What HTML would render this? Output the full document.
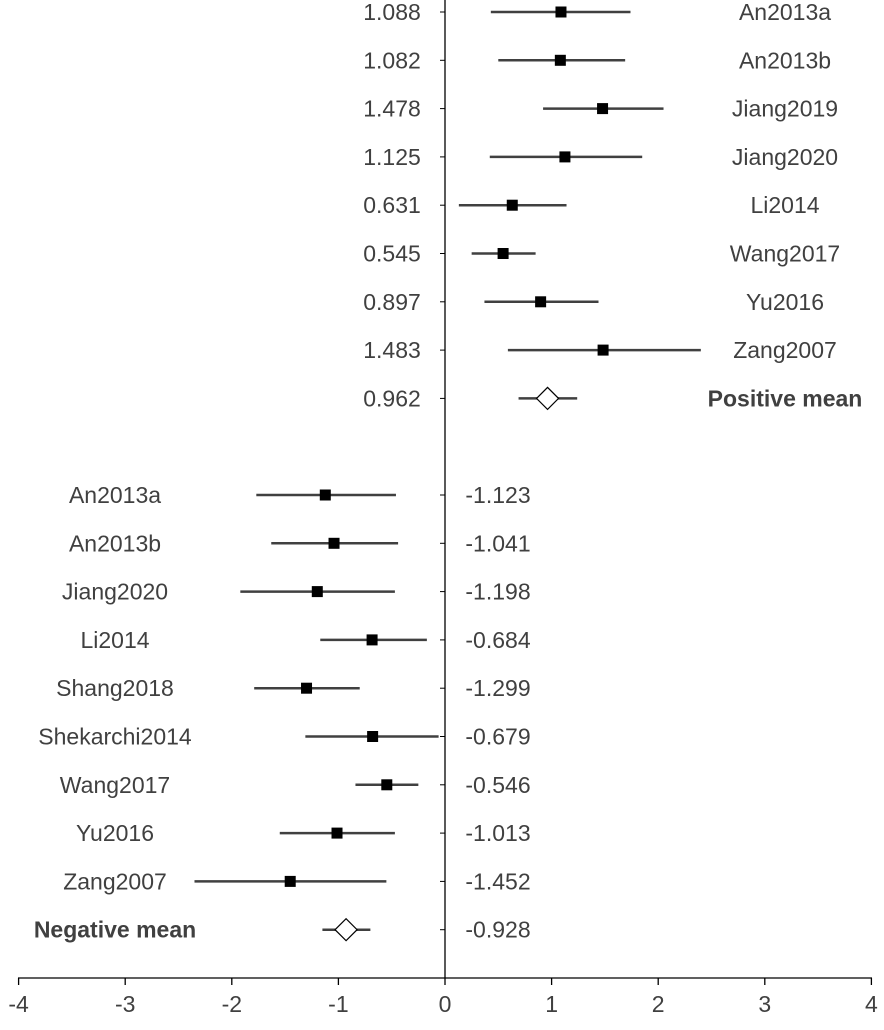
<!DOCTYPE html>
<html><head><meta charset="utf-8"><style>
body{margin:0;background:#fff}
svg text{font-family:"Liberation Sans",sans-serif;fill:#404040;font-size:23px}
</style></head><body>
<svg id="c" width="884" height="1025"></svg>
<script>
const posLabels=["An2013a","An2013b","Jiang2019","Jiang2020","Li2014","Wang2017","Yu2016","Zang2007"];
const posMean=[1.088,1.082,1.478,1.125,0.631,0.545,0.897,1.483];
const posLo=[0.43,0.50,0.92,0.42,0.13,0.25,0.37,0.59];
const posHi=[1.74,1.69,2.05,1.85,1.14,0.85,1.44,2.40];
const posSummary=[0.962,0.69,1.24];
const negLabels=["An2013a","An2013b","Jiang2020","Li2014","Shang2018","Shekarchi2014","Wang2017","Yu2016","Zang2007"];
const negMean=[-1.123,-1.041,-1.198,-0.684,-1.299,-0.679,-0.546,-1.013,-1.452];
const negLo=[-1.77,-1.63,-1.92,-1.17,-1.79,-1.31,-0.84,-1.55,-2.35];
const negHi=[-0.46,-0.44,-0.47,-0.17,-0.80,-0.06,-0.25,-0.47,-0.55];
const negSummary=[-0.928,-1.15,-0.70];
const xTicks=[-4,-3,-2,-1,0,1,2,3,4];
const svg=document.getElementById('c'),NS="http://www.w3.org/2000/svg";
const X=v=>445+v*106.6;
const Y=i=>12+i*48.3;
function el(t,a,txt){const e=document.createElementNS(NS,t);for(const k in a)e.setAttribute(k,a[k]);if(txt!==undefined)e.textContent=txt;svg.appendChild(e);return e;}
let e;
e=el('line',{x1:445,y1:0,x2:445,y2:978,stroke:'#000','stroke-width':1.3});


e=el('line',{x1:18,y1:978,x2:872,y2:978,stroke:'#000','stroke-width':1.3});


xTicks.forEach(t=>{
 e=el('line',{x1:X(t),y1:978,x2:X(t),y2:985,stroke:'#000','stroke-width':1.3});
 
 
 e=el('text',{x:X(t),y:1012,'text-anchor':'middle'},String(t));
 
 
});
function row(i,m,lo,hi,name,diamond,posSide,bold){
 const y=Y(i);
 e=el('line',{x1:440,y1:y,x2:445,y2:y,stroke:'#000','stroke-width':1});
 
 
 e=el('line',{x1:X(lo),y1:y,x2:X(hi),y2:y,stroke:'#404040','stroke-width':2.5});
 
 
 if(diamond){
  const cx=X(m);
  e=el('polygon',{points:`${cx-11},${y} ${cx},${y-11} ${cx+11},${y} ${cx},${y+11}`,fill:'#fff',stroke:'#000','stroke-width':1.2});
  
  
 }else{
  e=el('rect',{x:X(m)-5.5,y:y-5.5,width:11,height:11,fill:'#000'});
  
  
 }
 e=el('text',posSide?{x:392,y:y+8,'text-anchor':'middle'}:{x:498,y:y+8,'text-anchor':'middle'},m.toFixed(3));
 
 
 const a=posSide?{x:785,y:y+8,'text-anchor':'middle'}:{x:115,y:y+8,'text-anchor':'middle'};
 if(bold)a['font-weight']='bold';
 e=el('text',a,name);
 
 
}
posLabels.forEach((n,i)=>row(i,posMean[i],posLo[i],posHi[i],n,false,true,false));
row(8,posSummary[0],posSummary[1],posSummary[2],"Positive mean",true,true,true);
negLabels.forEach((n,i)=>row(10+i,negMean[i],negLo[i],negHi[i],n,false,false,false));
row(19,negSummary[0],negSummary[1],negSummary[2],"Negative mean",true,false,true);
</script>
</body></html>
